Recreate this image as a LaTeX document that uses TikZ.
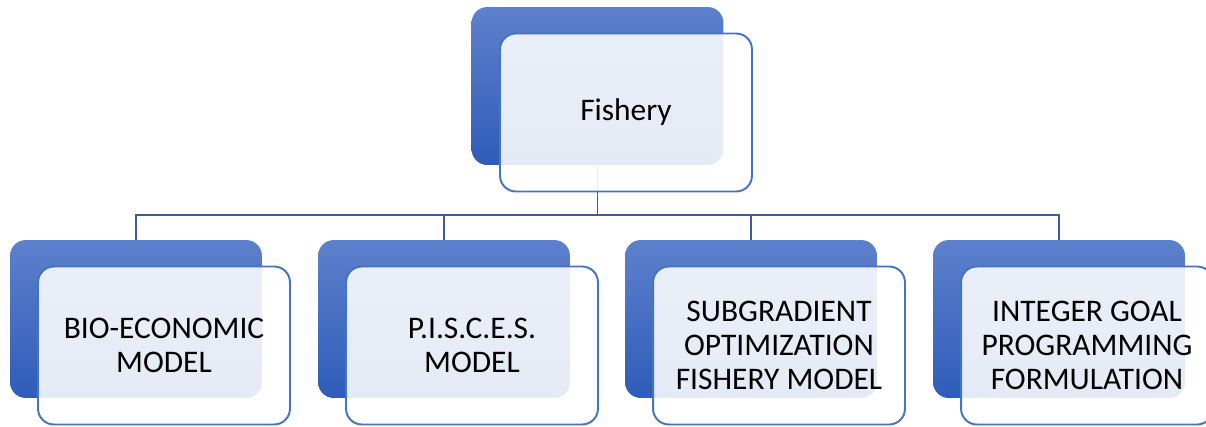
\documentclass[tikz,border=0pt]{standalone}
\usepackage{fontspec}
\setmainfont{Carlito}
\usetikzlibrary{positioning,calc}

\definecolor{boxtop}{RGB}{93,129,204}
\definecolor{boxbot}{RGB}{46,92,184}
\definecolor{boxline}{RGB}{68,114,196}
\definecolor{linkcol}{RGB}{60,92,160}

\tikzset{
  backbox/.style={rectangle,rounded corners=9pt,minimum width=5.04cm,minimum height=3.16cm,
    top color=boxtop,bottom color=boxbot,draw=none},
  frontbox/.style={rectangle,rounded corners=9pt,minimum width=5.04cm,minimum height=3.16cm,
    draw=boxline,line width=1.1pt,fill=white,fill opacity=0.88,text opacity=1,
    align=center,inner sep=2pt,font=\fontsize{17.9}{19.3}\selectfont},
  link/.style={draw=linkcol,line width=0.85pt}
}

\begin{document}
\begin{tikzpicture}[x=0.02cm,y=-0.02cm]
\useasboundingbox (0,0) rectangle (1206,426);

% back shapes
\node[backbox](top) at (597.5,86) {};
\foreach \x/\n in {136/1,444/2,751/3,1059/4}
	\node[backbox](back\n) at (\x,319) {};

% connectors
\coordinate (bus) at (597.5,215);
\draw[link](top.south)--(bus);
\foreach \n in {1,2,3,4}
	\draw[link](back\n.north)|-(bus);

% text boxes
\node[frontbox](fishery) at (626,112.5) {Fishery};
\foreach \x/\n/\t in {164/1/{BIO-ECONOMIC\\MODEL},
		472/2/{P.I.S.C.E.S.\\MODEL},
		779/3/{SUBGRADIENT\\OPTIMIZATION\\FISHERY MODEL},
		1087/4/{INTEGER GOAL\\PROGRAMMING\\FORMULATION}}
	\node[frontbox](front\n) at (\x,345.5) {\t};

\end{tikzpicture}
\end{document}
